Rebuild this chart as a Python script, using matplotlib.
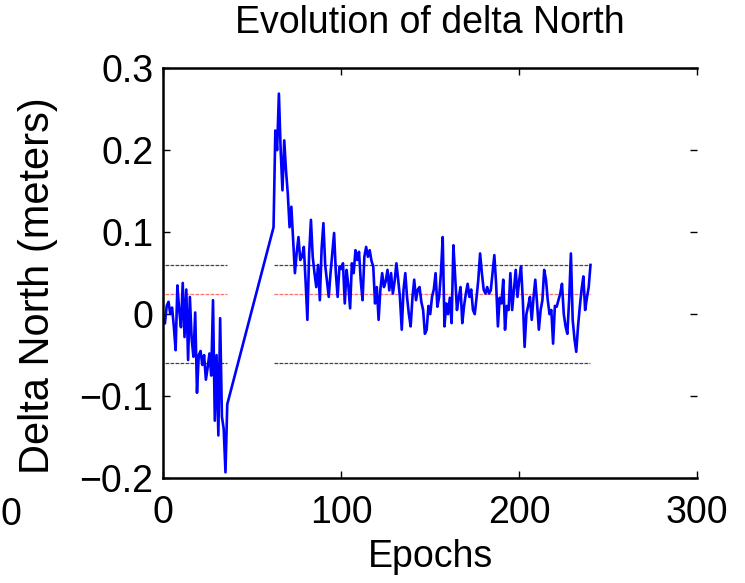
import matplotlib
matplotlib.use("Agg")
import matplotlib.pyplot as plt
from matplotlib.ticker import FuncFormatter

plt.rcParams['font.family'] = ['Liberation Sans', 'DejaVu Sans']

# epochs 1..36 (before outage)
epochs_a = list(range(1, 37))
north_a = [-0.011, 0.01, 0.015, 0.0, 0.008, -0.015, -0.044, 0.035, 0.005, -0.016,
           0.038, -0.028, 0.03, -0.056, 0.021, -0.03, -0.052, 0.002, -0.096, -0.05,
           -0.045, -0.062, -0.05, -0.08, -0.065, -0.048, -0.075, 0.017, -0.13, -0.05,
           -0.148, -0.005, -0.125, -0.14, -0.193, -0.11]

# epochs 62..240 (after outage)
epochs_b = list(range(62, 241))
north_b = [0.106, 0.224, 0.20, 0.269, 0.20, 0.151, 0.212, 0.175, 0.147, 0.106,
           0.131, 0.09, 0.05, 0.075, 0.094, 0.066, 0.07, 0.082, 0.04, -0.007,
           0.074, 0.115, 0.07, 0.05, 0.033, 0.06, 0.017, 0.08, 0.111, 0.06,
           0.04, 0.021, 0.05, 0.075, 0.099, 0.05, 0.021,
           0.058, 0.055, 0.062, 0.013, 0.054, 0.035, 0.007, 0.062, 0.05, 0.078,
           0.066, 0.076, 0.04, 0.017, 0.07, 0.082, 0.07, 0.078, 0.065, 0.058,
           0.013, 0.033, -0.007, 0.03, 0.05, 0.033, 0.04, 0.054, 0.029, 0.05,
           0.025, 0.04, 0.062, 0.042, 0.02, -0.019, 0.03, 0.05, 0.02, 0.0,
           -0.015, 0.02, 0.042, 0.017, 0.03, 0.033, 0.015, 0.005, -0.024,
           -0.019, 0.01, 0.0, 0.021, 0.03, 0.05, 0.009, 0.021, 0.05, 0.094,
           -0.015, 0.013, 0.0, 0.02, -0.011, 0.084, 0.046, 0.005, 0.02, 0.033,
           -0.011, 0.01, 0.025, 0.037, 0.021, 0.03, 0.005, 0.0, 0.02, 0.042,
           0.074, 0.05, 0.03, 0.025, 0.033, 0.025, 0.029, 0.05, 0.072, 0.037,
           -0.015, 0.02, 0.013, 0.042, -0.019, 0.01, 0.005, 0.05,
           0.005, 0.03, 0.054, 0.021, 0.042, 0.058, 0.017, -0.04, 0.0, 0.01,
           0.021, -0.007, 0.02, 0.042, 0.013, -0.019, 0.005, 0.017, 0.054, 0.042,
           0.017, 0.0, 0.005, -0.036, 0.01, 0.009, 0.017, 0.025, 0.037, 0.0,
           -0.015, -0.024, 0.017, 0.074, -0.007, -0.03, -0.046, -0.015, 0.009, 0.03,
           0.046, 0.005, 0.02, 0.033, 0.06]

mean_level = 0.024
bound = 0.06
segments = [(1, 36), (62, 240)]

fig = plt.figure(figsize=(7.45, 5.83), dpi=100)
ax = fig.add_axes([0.219, 0.180, 0.717, 0.703])

for x0, x1 in segments:
    ax.plot([x0, x1], [bound, bound], color='#444444', lw=0.9, dashes=(3, 1))
    ax.plot([x0, x1], [-bound, -bound], color='#444444', lw=0.9, dashes=(3, 1))
    ax.plot([x0, x1], [mean_level, mean_level], color='#ff7070', lw=0.9, dashes=(3, 1))

ax.plot(epochs_a + epochs_b, north_a + north_b, color='#0000ff', lw=1.9)

ax.set_xlim(0, 300)
ax.set_ylim(-0.2, 0.3)
ax.set_xticks([0, 100, 200, 300])
ax.set_yticks([-0.2, -0.1, 0, 0.1, 0.2, 0.3])
ax.yaxis.set_major_formatter(FuncFormatter(lambda v, _: f'{round(v, 3):g}'.replace('-', '\u2212')))

ax.spines['right'].set_visible(False)
for s in ['left', 'bottom', 'top']:
    ax.spines[s].set_linewidth(1.8)
ax.tick_params(direction='in', length=5, width=1, labelsize=27, right=True, top=True)
ax.tick_params(axis='x', pad=12)
ax.tick_params(axis='y', pad=7)

ax.set_title('Evolution of delta North', fontsize=27, pad=25)
ax.set_xlabel('Epochs', fontsize=27, labelpad=6)
ax.set_ylabel('Delta North (meters)', fontsize=30)
ax.yaxis.set_label_coords(-0.197, 0.47)

# tick label of the neighbouring panel, cut by the left edge
fig.text(0.0, 1 - 515 / 583, '0', ha='left', va='center', fontsize=27)

fig.savefig('out.png', dpi=100)
